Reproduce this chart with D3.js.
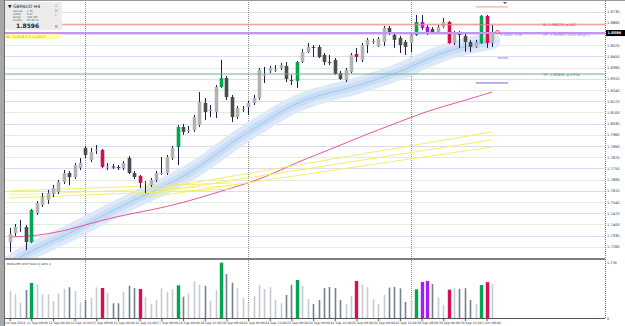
<!DOCTYPE html>
<html>
<head>
<meta charset="utf-8">
<script src="https://cdn.jsdelivr.net/npm/d3@7"></script>
<style>
  body { margin: 0; background: #fff; }
  svg { display: block; font-family: "DejaVu Sans", sans-serif; }
</style>
</head>
<body>
<svg id="chart" width="625" height="326"></svg>
<script>
// GBPAUD H4 candles, 10 Sep 2014 16:00 .. 1 Oct 2014 12:00
const open = [1.7290,1.7346,1.7381,1.7384,1.7290,1.7471,1.7521,1.7553,1.7590,1.7603,
  1.7665,1.7721,1.7696,1.7753,1.7878,1.7803,1.7862,1.7865,1.7759,1.7762,
  1.7759,1.7753,1.7815,1.7721,1.7703,1.7659,1.7646,1.7678,1.7718,1.7721,
  1.7815,1.7884,1.8009,1.7987,1.7990,1.8021,1.8159,1.8112,1.8103,1.8259,
  1.8315,1.8196,1.8071,1.8118,1.8134,1.8159,1.8190,1.8331,1.8359,1.8365,
  1.8378,1.8390,1.8303,1.8296,1.8415,1.8478,1.8509,1.8509,1.8459,1.8415,
  1.8428,1.8346,1.8303,1.8353,1.8465,1.8428,1.8521,1.8543,1.8515,1.8540,
  1.8628,1.8584,1.8565,1.8540,1.8534,1.8584,1.8665,1.8634,1.8621,1.8603,
  1.8634,1.8665,1.8534,1.8596,1.8578,1.8540,1.8509,1.8534,1.8703,1.8534];
const high = [1.7378,1.7403,1.7428,1.7396,1.7496,1.7546,1.7596,1.7615,1.7646,1.7678,
  1.7740,1.7734,1.7784,1.7815,1.7890,1.7878,1.7896,1.7871,1.7784,1.7778,
  1.7771,1.7796,1.7828,1.7734,1.7709,1.7671,1.7690,1.7734,1.7821,1.7834,
  1.7890,1.8021,1.8028,1.8015,1.8084,1.8227,1.8190,1.8146,1.8271,1.8428,
  1.8328,1.8209,1.8140,1.8140,1.8171,1.8209,1.8378,1.8384,1.8390,1.8396,
  1.8409,1.8415,1.8334,1.8421,1.8496,1.8534,1.8521,1.8521,1.8471,1.8459,
  1.8440,1.8359,1.8378,1.8471,1.8503,1.8534,1.8565,1.8559,1.8571,1.8640,
  1.8640,1.8596,1.8578,1.8553,1.8596,1.8709,1.8709,1.8646,1.8634,1.8646,
  1.8690,1.8671,1.8609,1.8609,1.8590,1.8553,1.8553,1.8709,1.8709,1.8646];
const low = [1.7228,1.7328,1.7353,1.7240,1.7284,1.7459,1.7509,1.7528,1.7571,1.7590,
  1.7653,1.7646,1.7684,1.7740,1.7815,1.7790,1.7840,1.7753,1.7740,1.7746,
  1.7740,1.7740,1.7715,1.7684,1.7628,1.7596,1.7634,1.7665,1.7709,1.7709,
  1.7803,1.7771,1.7959,1.7971,1.7978,1.8009,1.8053,1.8071,1.8065,1.8253,
  1.8178,1.8040,1.8059,1.8103,1.8084,1.8146,1.8178,1.8284,1.8346,1.8353,
  1.8365,1.8290,1.8271,1.8253,1.8409,1.8471,1.8446,1.8440,1.8396,1.8396,
  1.8334,1.8303,1.8290,1.8346,1.8415,1.8415,1.8471,1.8528,1.8509,1.8515,
  1.8584,1.8503,1.8471,1.8459,1.8478,1.8578,1.8615,1.8584,1.8590,1.8596,
  1.8628,1.8528,1.8521,1.8503,1.8478,1.8478,1.8503,1.8528,1.8503,1.8509];
const close = [1.7340,1.7384,1.7387,1.7290,1.7490,1.7534,1.7571,1.7596,1.7628,1.7665,
  1.7721,1.7696,1.7771,1.7784,1.7834,1.7853,1.7868,1.7759,1.7762,1.7759,
  1.7756,1.7784,1.7721,1.7696,1.7659,1.7662,1.7678,1.7721,1.7721,1.7821,
  1.7878,1.8009,1.7978,1.7990,1.8071,1.8165,1.8103,1.8115,1.8259,1.8315,
  1.8196,1.8071,1.8128,1.8121,1.8159,1.8190,1.8365,1.8334,1.8378,1.8368,
  1.8396,1.8309,1.8299,1.8415,1.8478,1.8509,1.8506,1.8446,1.8415,1.8412,
  1.8340,1.8309,1.8365,1.8459,1.8446,1.8521,1.8553,1.8546,1.8559,1.8628,
  1.8596,1.8553,1.8521,1.8509,1.8584,1.8665,1.8628,1.8603,1.8596,1.8634,
  1.8665,1.8534,1.8596,1.8584,1.8540,1.8509,1.8540,1.8703,1.8534,1.8596];
const volume = [853,750,478,874,1093,1052,740,738,531,759,
  915,959,843,490,562,634,955,937,790,459,
  462,812,1009,934,906,656,447,560,928,821,
  903,1021,665,762,1146,1040,1006,540,871,1727,
  1374,1102,946,631,456,696,1031,908,962,565,
  461,718,1043,1187,999,593,437,562,937,968,
  940,559,428,687,1156,1038,965,584,440,728,
  948,970,926,500,566,896,1124,1158,1062,646,
  406,884,944,912,930,563,434,1030,1120,1060];

// bars flagged by the volume indicator
const climaxBars = [4,17,24,31,39,53,64,75,76,77,81,87,88];
const climaxType = ["g","r","r","g","g","g","r","g","p","p","r","g","r"];

// moving averages (candle index -> price)
const bandIdx = [0,4,11,17,23,29,35,41,47,52,57,63,68,73,78,84,89];
const bandVal = [1.7152,1.7240,1.7340,1.7453,1.7553,1.7646,1.7753,1.7915,1.8040,1.8146,
  1.8209,1.8253,1.8309,1.8365,1.8453,1.8515,1.8546];
const pinkIdx = [0,5,11,17,23,29,35,41,47,53,59,65,71,77,83,89];
const pinkVal = [1.7321,1.7328,1.7365,1.7428,1.7471,1.7509,1.7565,1.7628,1.7690,1.7790,
  1.7865,1.7953,1.8028,1.8109,1.8165,1.8227];

// yellow trend lines: [startIdx, startPrice, endIdx, endPrice, dotted]
const yellowLines = [
  [0, 1.7609, 41, 1.7659, 0],
  [0, 1.7565, 41, 1.7621, 0],
  [0, 1.7584, 41, 1.7640, 1],
  [26, 1.7615, 89, 1.7978, 0],
  [26, 1.7596, 89, 1.7928, 0],
  [26, 1.7571, 89, 1.7884, 0]
];

const priceTicks = [1.8730,1.8660,1.8590,1.8520,1.8450,1.8380,1.8310,1.8240,1.8170,1.8100,
  1.8030,1.7960,1.7890,1.7820,1.7750,1.7680,1.7610,1.7540,1.7470,1.7400,1.7330,1.7260];
const volTicks = [1739, 0];
const weekStarts = [14, 44, 74];
const timeLabels = ["10 Sep 2014","11 Sep 08:00","12 Sep 00:00","12 Sep 16:00","15 Sep 08:00",
  "16 Sep 00:00","16 Sep 16:00","17 Sep 08:00","18 Sep 00:00","18 Sep 16:00","19 Sep 08:00",
  "22 Sep 00:00","22 Sep 16:00","23 Sep 08:00","24 Sep 00:00","24 Sep 16:00","25 Sep 08:00",
  "26 Sep 00:00","26 Sep 16:00","29 Sep 08:00","30 Sep 00:00","30 Sep 16:00","1 Oct 08:00"];

// order levels
const slLevel = 1.86475, avgLevel = 1.8596, tpLevel = 1.8340;

const left = 5, right = 605,
      mainTop = 2, mainBot = 258,
      volTop = 260, volBot = 318;

const colors = { g: "#00a651", r: "#d6104f", p: "#a020f0" };

var svg = d3.select("#chart");

var x = d3.scaleLinear().domain([0, 89]).range([9.6, 492]);
var y = d3.scaleLinear().domain([1.7190, 1.8790]).range([mainBot, mainTop]);
var v = d3.scaleLinear().domain([0, 1780]).range([volBot, 261]);

svg.append("rect").attr("width", 625).attr("height", 326).attr("fill", "#fff");

var defs = svg.append("defs");
defs.append("clipPath").attr("id", "clipMain")
  .append("rect").attr("x", left).attr("y", mainTop).attr("width", right - left).attr("height", mainBot - mainTop);

// grid
svg.append("g").selectAll("line")
    .data(priceTicks)
    .enter()
  .append("line")
    .attr("x1", left).attr("x2", right)
    .attr("y1", d => Math.round(y(d)) + 0.5).attr("y2", d => Math.round(y(d)) + 0.5)
    .attr("stroke", (d, i) => i % 2 ? "#dcf0dc" : "#dcdcf3");

// week separators
svg.append("g").selectAll("line")
    .data(weekStarts)
    .enter()
  .append("line")
    .attr("x1", d => Math.round(x(d)) + 0.5).attr("x2", d => Math.round(x(d)) + 0.5)
    .attr("y1", mainTop).attr("y2", volBot)
    .attr("stroke", "#8a8a8a").attr("stroke-dasharray", "1,1");

var main = svg.append("g").attr("clip-path", "url(#clipMain)");

// blue band
var bandLine = d3.line().x((d, i) => x(bandIdx[i])).y(d => y(d)).curve(d3.curveBasis);
main.append("path").attr("d", bandLine(bandVal)).attr("fill", "none")
  .attr("stroke", "#dde9f9").attr("stroke-width", 17).attr("stroke-linecap", "round");
main.append("path").attr("d", bandLine(bandVal)).attr("fill", "none")
  .attr("stroke", "#c9def5").attr("stroke-width", 8);
main.append("path").attr("d", bandLine(bandVal)).attr("fill", "none")
  .attr("stroke", "#94c2ec").attr("stroke-width", 0.8);

// pink MA
var pinkLine = d3.line().x((d, i) => x(pinkIdx[i])).y(d => y(d)).curve(d3.curveBasis);
main.append("path").attr("d", pinkLine(pinkVal)).attr("fill", "none")
  .attr("stroke", "#e8559d").attr("stroke-width", 1);

// yellow lines
main.append("g").selectAll("line")
    .data(yellowLines)
    .enter()
  .append("line")
    .attr("x1", d => x(d[0])).attr("y1", d => y(d[1]))
    .attr("x2", d => x(d[2])).attr("y2", d => y(d[3]))
    .attr("stroke", "#f4ee6a").attr("stroke-width", 1)
    .attr("stroke-dasharray", d => d[4] ? "2,1" : null);

// order lines
function hline(level, color, w) {
  svg.append("line")
    .attr("x1", left).attr("x2", right)
    .attr("y1", y(level)).attr("y2", y(level))
    .attr("stroke", color).attr("stroke-width", w);
}
hline(slLevel, "#e58080", 1);
hline(tpLevel, "#6fae8e", 1);
hline(avgLevel, "#c792f2", 2);

// candles
var idx = d3.range(open.length);
var typeOf = {};
climaxBars.forEach((b, k) => typeOf[b] = climaxType[k]);

main.append("g").selectAll("line")
    .data(idx)
    .enter()
  .append("line")
    .attr("x1", i => Math.round(x(i)) + 0.5).attr("x2", i => Math.round(x(i)) + 0.5)
    .attr("y1", i => y(high[i])).attr("y2", i => y(low[i]))
    .attr("stroke", "#1d1d4d").attr("stroke-width", 1);

main.append("g").selectAll("rect")
    .data(idx)
    .enter()
  .append("rect")
    .attr("x", i => Math.round(x(i)) - 1.3)
    .attr("width", 3.6)
    .attr("y", i => y(Math.max(open[i], close[i])))
    .attr("height", i => Math.max(1, Math.abs(y(open[i]) - y(close[i]))))
    .attr("fill", i => typeOf[i] ? colors[typeOf[i]] : (close[i] >= open[i] ? "#b2b2b2" : "#4d4d4d"));

// short markers on the right
function seg(i0, i1, level, color) {
  svg.append("line").attr("x1", x(i0)).attr("x2", x(i1))
    .attr("y1", y(level)).attr("y2", y(level))
    .attr("stroke", color).attr("stroke-width", 1);
}
seg(86, 92, 1.8759, "#f0a090");
seg(90, 92, 1.8440, "#8a8af0");
seg(86, 92, 1.8284, "#6a6ae6");
svg.append("circle").attr("cx", x(90)).attr("cy", y(1.8603)).attr("r", 1.6)
  .attr("fill", "#fff").attr("stroke", "#e02020").attr("stroke-width", 0.8);
svg.append("path").attr("d", "M503,2 L507,2 L505,4 Z").attr("fill", "#555");

// line labels
function label(tx, ty, txt, color) {
  svg.append("text").attr("x", tx).attr("y", ty).text(txt)
    .attr("font-size", 3.6).attr("fill", color);
}
label(543, y(slLevel) + 1.3, "Bi: 1.86475, p:547", "#e04040");
label(500, y(avgLevel) + 2.8, "0.1800, 52B", "#a37ae6");
label(543, y(avgLevel) + 2.8, "AP: 1.85960, 1x20 B5@21", "#a37ae6");
label(543, y(tpLevel) + 1.5, "TP: 1.83400, p:1374", "#4a8a6a");

// info panel
svg.append("rect").attr("x", left).attr("y", 2).attr("width", 57).attr("height", 28).attr("fill", "#ececec");
svg.append("text").attr("x", 8).attr("y", 7.5).text("\u25BC GBPAUD  H4")
  .attr("font-size", 4.6).attr("fill", "#222");
var infoRows = [["Spread", "1.70"], ["LotPip", "6.81"], ["Range", "108.301"], ["Candle", "02:48:33"]];
infoRows.forEach((r, k) => {
  svg.append("text").attr("x", 13).attr("y", 11.5 + k * 3.2).text(r[0]).attr("font-size", 2.6).attr("fill", "#555");
  svg.append("text").attr("x", 27).attr("y", 11.5 + k * 3.2).text(r[1]).attr("font-size", 2.6).attr("fill", "#555");
});
svg.append("text").attr("x", 16).attr("y", 28).text(d3.format(".4f")(close[89]))
  .attr("font-size", 6).attr("font-weight", "bold").attr("fill", "#222");
["S", "H", "L", "-"].forEach((c, k) => {
  svg.append("text").attr("x", 55).attr("y", 7 + k * 4.5).text(c).attr("font-size", 3.8).attr("fill", "#8a8ae6");
});
svg.append("text").attr("x", 55).attr("y", 27.5).text("R").attr("font-size", 4).attr("fill", "#e04060");
svg.append("rect").attr("x", left).attr("y", 34).attr("width", 55).attr("height", 5).attr("fill", "#ffffa8");
svg.append("text").attr("x", 6).attr("y", 37.8).text("SL: 1x10 B 2.5 = p33.3")
  .attr("font-size", 3.4).attr("fill", "#b49a00");

// volume panel
svg.append("text").attr("x", 7).attr("y", 265).text("BVOLUME (CNT 5000 4)  4451 0")
  .attr("font-size", 2.8).attr("fill", "#333");
svg.append("g").selectAll("rect")
    .data(idx)
    .enter()
  .append("rect")
    .attr("x", i => Math.round(x(i)) - (typeOf[i] ? 1.2 : 0.3))
    .attr("width", i => typeOf[i] ? 3.4 : 1.6)
    .attr("y", i => v(volume[i]))
    .attr("height", i => volBot - v(volume[i]))
    .attr("fill", i => typeOf[i] ? colors[typeOf[i]] : (close[i] >= open[i] ? "#c6cad1" : "#72808f"));

// frames
svg.append("rect").attr("x", 0).attr("y", 0).attr("width", 4).attr("height", 326).attr("fill", "#a8a8a8");
svg.append("line").attr("x1", 4.5).attr("x2", 4.5).attr("y1", 0).attr("y2", 326).attr("stroke", "#6d6d6d");
svg.append("line").attr("x1", left).attr("x2", 625).attr("y1", 0.5).attr("y2", 0.5).attr("stroke", "#9a9a9a");
svg.append("line").attr("x1", left).attr("x2", right).attr("y1", 259).attr("y2", 259)
  .attr("stroke", "#555").attr("stroke-width", 1.6);
svg.append("line").attr("x1", left).attr("x2", right).attr("y1", volBot + 0.5).attr("y2", volBot + 0.5)
  .attr("stroke", "#555");
svg.append("line").attr("x1", right + 0.5).attr("x2", right + 0.5).attr("y1", 1).attr("y2", volBot)
  .attr("stroke", "#777").attr("stroke-dasharray", "1,1");

// price axis; the label under the current-price box is hidden like in the terminal
var axisTicks = priceTicks.filter(p => Math.abs(y(p) - y(close[89])) > 4);
var yAxis = svg.append("g")
    .attr("transform", "translate(" + (right + 2) + ",0)")
    .call(d3.axisRight(y).tickValues(axisTicks).tickSize(0).tickPadding(0).tickFormat(d3.format(".4f")));
yAxis.select(".domain").remove();
yAxis.selectAll("text").attr("font-size", 3.6).attr("fill", "#333").attr("font-family", "DejaVu Sans");

svg.append("rect").attr("x", right + 1).attr("y", y(close[89]) - 3).attr("width", 19).attr("height", 6).attr("fill", "#000");
svg.append("text").attr("x", right + 2.5).attr("y", y(close[89]) + 1.3).text(d3.format(".4f")(close[89]))
  .attr("font-size", 3.6).attr("font-weight", "bold").attr("fill", "#fff");

var vAxis = svg.append("g")
    .attr("transform", "translate(" + (right + 2) + ",0)")
    .call(d3.axisRight(v).tickValues(volTicks).tickSize(0).tickPadding(0));
vAxis.select(".domain").remove();
vAxis.selectAll("text").attr("font-size", 3.4).attr("fill", "#333").attr("font-family", "DejaVu Sans");

// time axis
var tAxis = svg.append("g")
    .attr("transform", "translate(0," + (volBot + 1) + ")")
    .call(d3.axisBottom(x).tickValues(timeLabels.map((d, k) => k * 4)).tickSize(2).tickPadding(1)
      .tickFormat((d, k) => timeLabels[k]));
tAxis.select(".domain").remove();
tAxis.selectAll("line").attr("stroke", "#555");
tAxis.selectAll("text").attr("font-size", 3.2).attr("fill", "#333").attr("text-anchor", "start")
  .attr("dx", -5).attr("font-family", "DejaVu Sans");
</script>
</body>
</html>
